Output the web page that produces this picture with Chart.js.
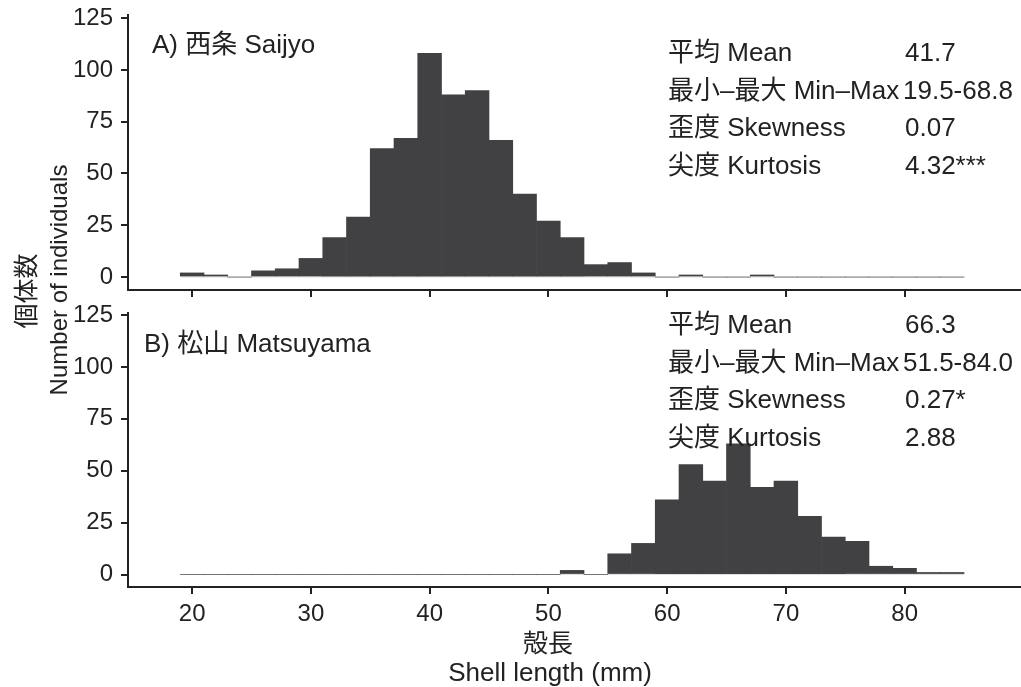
<!DOCTYPE html>
<html><head><meta charset="utf-8">
<script src="https://cdn.jsdelivr.net/npm/chart.js@4.4.1/dist/chart.umd.min.js"></script>
<style>
html,body{margin:0;padding:0;background:#fff;}
body{width:1021px;height:687px;position:relative;overflow:hidden;font-family:"Liberation Sans","Noto Sans CJK JP",sans-serif;color:#222;}
canvas{position:absolute;left:0;}
.t{position:absolute;white-space:nowrap;line-height:1;}
.rot{transform:translate(-50%,-50%) rotate(-90deg);}
.ctr{transform:translate(-50%,-50%);}
</style></head><body>
<canvas id="cA" width="1021" height="300" style="top:0;width:1021px;height:300px"></canvas>
<canvas id="cB" width="1021" height="387" style="top:300px;width:1021px;height:387px"></canvas>
<div id="ann"></div>
<script>
// ---------- data ----------
const binCenters = [20,22,24,26,28,30,32,34,36,38,40,42,44,46,48,50,52,54,56,58,60,62,64,66,68,70,72,74,76,78,80,82,84];
const binRange = [19, 85];
const saijyoCounts = [2,1,0,3,4,9,19,29,62,67,108,88,90,66,40,27,19,6,7,2,0,1,0,0,1,0,0,0,0,0,0,0,0];
const matsuyamaCounts = [0,0,0,0,0,0,0,0,0,0,0,0,0,0,0,0,2,0,10,15,36,53,45,63,42,45,28,18,16,4,3,1,1];
const xTickValues = [20,30,40,50,60,70,80];
const yTickValues = [0,25,50,75,100,125];
const panelTitles = ['A) 西条 Saijyo', 'B) 松山 Matsuyama'];
const statLabels = ['平均 Mean', '最小–最大 Min–Max', '歪度 Skewness', '尖度 Kurtosis'];
const saijyoStats = ['41.7', '19.5-68.8', '0.07', '4.32***'];
const matsuyamaStats = ['66.3', '51.5-84.0', '0.27*', '2.88'];
const xTitle = ['殻長', 'Shell length (mm)'];
const yTitle = ['個体数', 'Number of individuals'];

// ---------- style ----------
const barColor = '#414143';
const axisColor = '#222';
const FONT = '"Liberation Sans","Noto Sans CJK JP",sans-serif';

function noPad(s) { s.paddingTop = 0; s.paddingBottom = 0; s.paddingLeft = 0; s.paddingRight = 0; }

function makeChart(id, counts, yMin, yMax, padTop, xAxisH, showXLabels) {
  return new Chart(document.getElementById(id), {
    type: 'bar',
    data: {
      datasets: [
        { type: 'bar', data: binCenters.map((x, i) => ({ x: x, y: counts[i] })),
          backgroundColor: barColor, borderWidth: 0, barPercentage: 1, categoryPercentage: 1, order: 0 },
        { type: 'line', data: binRange.map(x => ({ x: x, y: 0 })),
          borderColor: '#dedede', borderWidth: 1, pointRadius: 0, order: 1 }
      ]
    },
    options: {
      responsive: false, animation: false, devicePixelRatio: 1,
      layout: { autoPadding: false, padding: { top: padTop, left: 0, right: 0, bottom: 0 } },
      plugins: { legend: { display: false }, tooltip: { enabled: false } },
      scales: {
        x: {
          type: 'linear', min: 14.6, max: 89.8, offset: false,
          afterBuildTicks: s => { s.ticks = xTickValues.map(v => ({ value: v })); },
          afterFit: s => { s.height = xAxisH; noPad(s); },
          grid: { offset: false, drawOnChartArea: false, drawTicks: true, tickLength: 7, color: axisColor, lineWidth: 2 },
          border: { display: true, color: axisColor, width: 2 },
          ticks: { display: showXLabels, padding: 6, color: axisColor, maxRotation: 0, autoSkip: false,
                   font: { family: FONT, size: 24 } }
        },
        y: {
          min: yMin, max: yMax,
          afterBuildTicks: s => { s.ticks = yTickValues.map(v => ({ value: v })); },
          afterFit: s => { s.width = 128; noPad(s); },
          grid: { offset: false, drawOnChartArea: false, drawTicks: true, tickLength: 7, color: axisColor, lineWidth: 2 },
          border: { display: true, color: axisColor, width: 2 },
          ticks: { padding: 8, color: axisColor, font: { family: FONT, size: 24 } }
        }
      }
    }
  });
}

makeChart('cA', saijyoCounts, -6.25, 126.5, 15, 10, false);
makeChart('cB', matsuyamaCounts, -6, 126, 13, 100, true);

// ---------- annotations (real text) ----------
const ann = document.getElementById('ann');
function addText(txt, x, y, size, cls) {
  const d = document.createElement('div');
  d.className = 't' + (cls ? ' ' + cls : '');
  d.textContent = txt;
  d.style.left = x + 'px';
  d.style.top = y + 'px';
  d.style.fontSize = size + 'px';
  ann.appendChild(d);
  return d;
}
// panel titles
addText(panelTitles[0], 152, 31, 26);
addText(panelTitles[1], 144, 329.5, 26);
// stats
const rowsA = [51.7, 89.5, 127.2, 165];
const rowsB = [324, 362, 399, 436.5];
const valX = [905, 903, 905, 905];
statLabels.forEach((lab, i) => {
  addText(lab, 668, rowsA[i] - 13, 26);
  addText(saijyoStats[i], valX[i], rowsA[i] - 13, 26);
  addText(lab, 668, rowsB[i] - 13, 26);
  addText(matsuyamaStats[i], valX[i], rowsB[i] - 13, 26);
});
// axis titles
addText(xTitle[0], 548, 643, 25, 'ctr');
addText(xTitle[1], 550, 671.5, 26, 'ctr');
addText(yTitle[0], 26, 290.5, 25, 'rot');
addText(yTitle[1], 59, 280, 24, 'rot');
</script></body></html>
